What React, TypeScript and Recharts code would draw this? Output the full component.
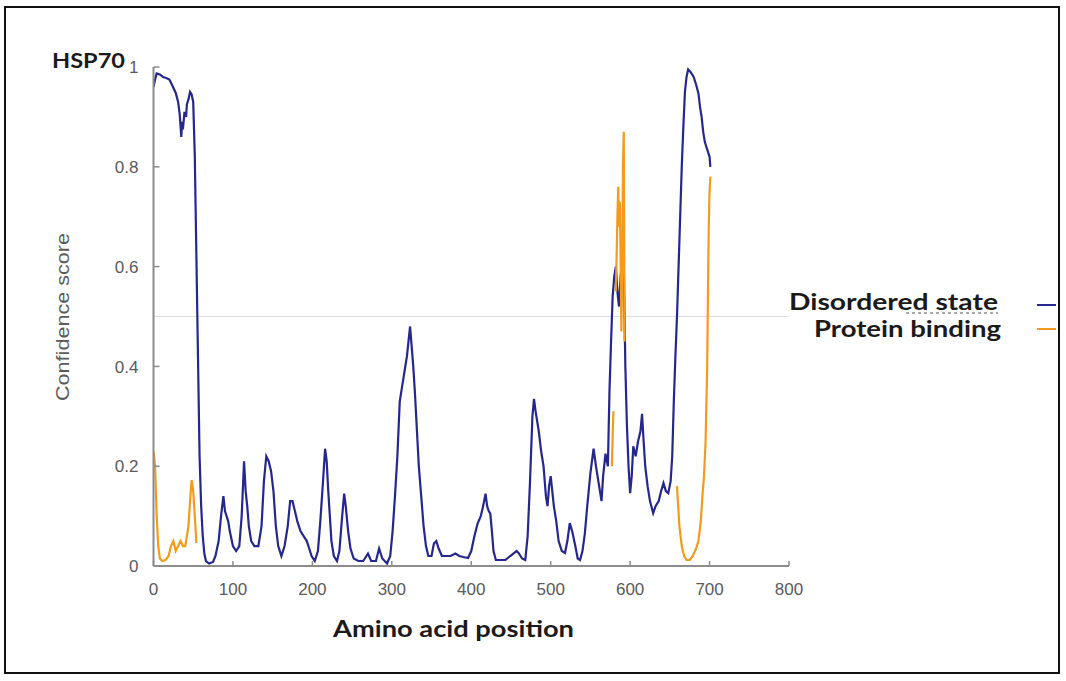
import React from 'react';
import { LineChart, Line, XAxis, YAxis, ReferenceLine } from 'recharts';

const disorderPos = [0, 2, 4, 8, 12, 16, 20, 24, 28, 31, 33, 35, 36, 37, 39, 41, 42, 44, 46, 48, 50, 52, 54, 56, 58, 60, 62, 64, 66, 70, 75, 78, 82, 85, 88, 90, 92, 94, 96, 100, 104, 108, 111, 114, 116, 118, 120, 123, 127, 132, 136, 139, 142, 145, 148, 151, 154, 157, 161, 165, 169, 172, 175, 178, 181, 185, 189, 193, 196, 199, 203, 207, 210, 213, 216, 218, 220, 222, 224, 227, 231, 234, 237, 240, 242, 245, 248, 252, 258, 264, 270, 274, 280, 284, 288, 294, 298, 301, 304, 307, 310, 313, 316, 319, 321, 323, 325, 327, 329, 331, 334, 337, 340, 343, 346, 350, 353, 356, 359, 363, 368, 374, 380, 385, 390, 396, 400, 404, 408, 412, 415, 418, 420, 422, 424, 426, 428, 431, 437, 443, 449, 453, 457, 460, 464, 468, 471, 474, 477, 479, 481, 483, 485, 488, 491, 494, 496, 498, 500, 502, 504, 507, 510, 514, 518, 521, 524, 527, 531, 534, 537, 540, 543, 546, 550, 554, 557, 560, 564, 566, 569, 572, 574, 576, 578, 580, 582, 584, 586, 588, 590, 592, 594, 596, 598, 600, 602, 604, 607, 610, 613, 615, 617, 619, 622, 625, 629, 632, 636, 639, 642, 645, 648, 651, 653, 655, 657, 659, 661, 663, 665, 667, 669, 671, 673, 676, 680, 683, 686, 688, 690, 692, 694, 696, 698, 700, 701];
const disorderScore = [0.96, 0.975, 0.987, 0.985, 0.98, 0.978, 0.975, 0.962, 0.948, 0.93, 0.905, 0.86, 0.89, 0.875, 0.91, 0.9, 0.925, 0.935, 0.95, 0.945, 0.93, 0.82, 0.62, 0.42, 0.22, 0.12, 0.06, 0.025, 0.01, 0.005, 0.008, 0.02, 0.05, 0.1, 0.14, 0.11, 0.1, 0.09, 0.07, 0.04, 0.03, 0.04, 0.1, 0.21, 0.15, 0.12, 0.08, 0.05, 0.04, 0.04, 0.08, 0.17, 0.22, 0.21, 0.19, 0.15, 0.08, 0.04, 0.02, 0.04, 0.08, 0.13, 0.13, 0.11, 0.09, 0.07, 0.06, 0.05, 0.035, 0.02, 0.01, 0.03, 0.09, 0.16, 0.235, 0.21, 0.15, 0.1, 0.05, 0.02, 0.01, 0.03, 0.09, 0.145, 0.12, 0.07, 0.035, 0.015, 0.01, 0.01, 0.025, 0.01, 0.01, 0.035, 0.015, 0.005, 0.02, 0.07, 0.14, 0.22, 0.33, 0.36, 0.39, 0.42, 0.45, 0.48, 0.44, 0.4, 0.35, 0.29, 0.2, 0.14, 0.08, 0.04, 0.02, 0.02, 0.045, 0.05, 0.035, 0.02, 0.02, 0.02, 0.025, 0.02, 0.018, 0.016, 0.03, 0.06, 0.085, 0.1, 0.12, 0.145, 0.12, 0.11, 0.105, 0.07, 0.03, 0.012, 0.012, 0.012, 0.02, 0.025, 0.03, 0.025, 0.015, 0.012, 0.06, 0.17, 0.3, 0.335, 0.31, 0.29, 0.27, 0.23, 0.2, 0.14, 0.12, 0.16, 0.18, 0.15, 0.12, 0.09, 0.05, 0.03, 0.026, 0.05, 0.086, 0.07, 0.04, 0.015, 0.012, 0.03, 0.065, 0.12, 0.186, 0.235, 0.2, 0.17, 0.13, 0.18, 0.225, 0.2, 0.35, 0.45, 0.54, 0.58, 0.6, 0.55, 0.52, 0.58, 0.61, 0.6, 0.4, 0.28, 0.2, 0.146, 0.18, 0.24, 0.22, 0.25, 0.27, 0.305, 0.25, 0.2, 0.16, 0.13, 0.106, 0.12, 0.13, 0.15, 0.166, 0.15, 0.146, 0.17, 0.22, 0.33, 0.42, 0.5, 0.6, 0.7, 0.8, 0.88, 0.95, 0.98, 0.995, 0.99, 0.98, 0.965, 0.947, 0.92, 0.9, 0.87, 0.85, 0.84, 0.83, 0.82, 0.8];

const bindingPos = [0, 2, 4, 6, 8, 11, 15, 19, 22, 25, 28, 31, 34, 37, 40, 42, 44, 46, 48, 50, 52, 54, 60, 577, 578, 579, 580.5, 582, 583, 584, 585, 586, 587, 588, 589, 590, 591, 592, 593, 620, 659, 662, 665, 668, 671, 675, 679, 683, 686, 689, 691, 693, 695, 697, 698, 699, 700, 701];
const bindingScore: (number | null)[] = [0.23, 0.2, 0.1, 0.04, 0.015, 0.01, 0.012, 0.02, 0.04, 0.05, 0.03, 0.04, 0.05, 0.04, 0.04, 0.06, 0.08, 0.13, 0.172, 0.15, 0.1, 0.046, null, 0.2, 0.26, 0.31, null, 0.55, 0.62, 0.7, 0.76, 0.68, 0.73, 0.62, 0.47, 0.6, 0.8, 0.87, 0.45, null, 0.16, 0.08, 0.04, 0.02, 0.012, 0.012, 0.02, 0.035, 0.05, 0.09, 0.14, 0.18, 0.25, 0.4, 0.55, 0.68, 0.75, 0.78];

const xTicks = [0, 100, 200, 300, 400, 500, 600, 700, 800];
const yTicks = [0, 0.2, 0.4, 0.6, 0.8, 1];

const disorderData = disorderPos.map((p, i) => ({ pos: p, v: disorderScore[i] }));
const bindingData = bindingPos.map((p, i) => ({ pos: p, v: bindingScore[i] }));

const BLUE = '#26268f';
const ORANGE = '#f29b1d';
const AXIS = '#8c8c8c';
const TICK_TEXT = '#5a5a5a';
const tickFont = '"Liberation Sans", Arial, sans-serif';
const boldFont = 'Lato, "Open Sans", sans-serif';

const XTick = (props: any) => {
  const { x, y, payload } = props;
  const axisY = y - 17;
  return (
    <g>
      <line x1={x} x2={x} y1={axisY} y2={axisY - 5} stroke={AXIS} strokeWidth={1.5} />
      <text x={x} y={y} dy="0.71em" textAnchor="middle" fill={TICK_TEXT} fontSize={17} fontFamily={tickFont}>
        {String(payload.value)}
      </text>
    </g>
  );
};

const YTick = (props: any) => {
  const { x, y, payload } = props;
  const axisX = x + 15;
  return (
    <g>
      <line x1={axisX} x2={axisX + 6} y1={y} y2={y} stroke={AXIS} strokeWidth={1.5} />
      <text x={x} y={y} dy="0.36em" textAnchor="end" fill={TICK_TEXT} fontSize={17} fontFamily={tickFont}>
        {String(payload.value)}
      </text>
    </g>
  );
};

export default function App() {
  return (
    <div style={{ position: 'absolute', left: 0, top: 0, width: 1066, height: 681, background: '#fff' }}>
      <div style={{ position: 'absolute', left: 4, top: 6, width: 1056, height: 668, border: '2px solid #111', boxSizing: 'border-box' }} />
      <div style={{ position: 'absolute', left: 0, top: 0 }}>
        <LineChart width={1066} height={681} margin={{ top: 67, right: 277, bottom: 85, left: 93.5 }}>
          <XAxis
            dataKey="pos"
            type="number"
            domain={[0, 800]}
            ticks={xTicks}
            interval={0}
            height={30}
            tickSize={0}
            tickMargin={17}
            tick={<XTick />}
            axisLine={{ stroke: AXIS, strokeWidth: 2 }}
            tickLine={false}
            allowDataOverflow
          />
          <YAxis
            dataKey="v"
            type="number"
            domain={[0, 1]}
            ticks={yTicks}
            interval={0}
            width={60}
            tickSize={0}
            tickMargin={15}
            tick={<YTick />}
            axisLine={{ stroke: AXIS, strokeWidth: 2 }}
            tickLine={false}
            allowDataOverflow
          />
          <ReferenceLine y={0.5} stroke="#dcdcdc" strokeWidth={1} />
          <Line data={disorderData} dataKey="v" type="linear" stroke={BLUE} strokeWidth={2.2} dot={false} activeDot={false} isAnimationActive={false} connectNulls={false} />
          <Line data={bindingData} dataKey="v" type="linear" stroke={ORANGE} strokeWidth={2.2} dot={false} activeDot={false} isAnimationActive={false} connectNulls={false} />
        </LineChart>
      </div>
      <svg width={1066} height={681} style={{ position: 'absolute', left: 0, top: 0, pointerEvents: 'none' }}>
        <text x={52} y={68} textLength={73} lengthAdjust="spacingAndGlyphs" fontFamily={boldFont} fontWeight={700} fontSize={21} fill="#1a1a1a">HSP70</text>
        <text x={0} y={0} transform="translate(69,317) rotate(-90)" textAnchor="middle" textLength={168} lengthAdjust="spacingAndGlyphs" fontFamily={tickFont} fontSize={18} fill={TICK_TEXT}>Confidence score</text>
        <text x={333} y={637} textLength={241} lengthAdjust="spacingAndGlyphs" fontFamily={boldFont} fontWeight={700} fontSize={23} fill="#1a1a1a">Amino acid position</text>
        <text x={789} y={310} textLength={209} lengthAdjust="spacingAndGlyphs" fontFamily={boldFont} fontWeight={700} fontSize={23} fill="#1a1a1a">Disordered state</text>
        <line x1={906} x2={998} y1={313} y2={313} stroke="#555" strokeWidth={1} strokeDasharray="3 3" />
        <text x={814} y={337} textLength={187} lengthAdjust="spacingAndGlyphs" fontFamily={boldFont} fontWeight={700} fontSize={23} fill="#1a1a1a">Protein binding</text>
        <line x1={1037} x2={1056} y1={305} y2={305} stroke={BLUE} strokeWidth={2} />
        <line x1={1037} x2={1056} y1={329} y2={329} stroke={ORANGE} strokeWidth={2} />
      </svg>
    </div>
  );
}
